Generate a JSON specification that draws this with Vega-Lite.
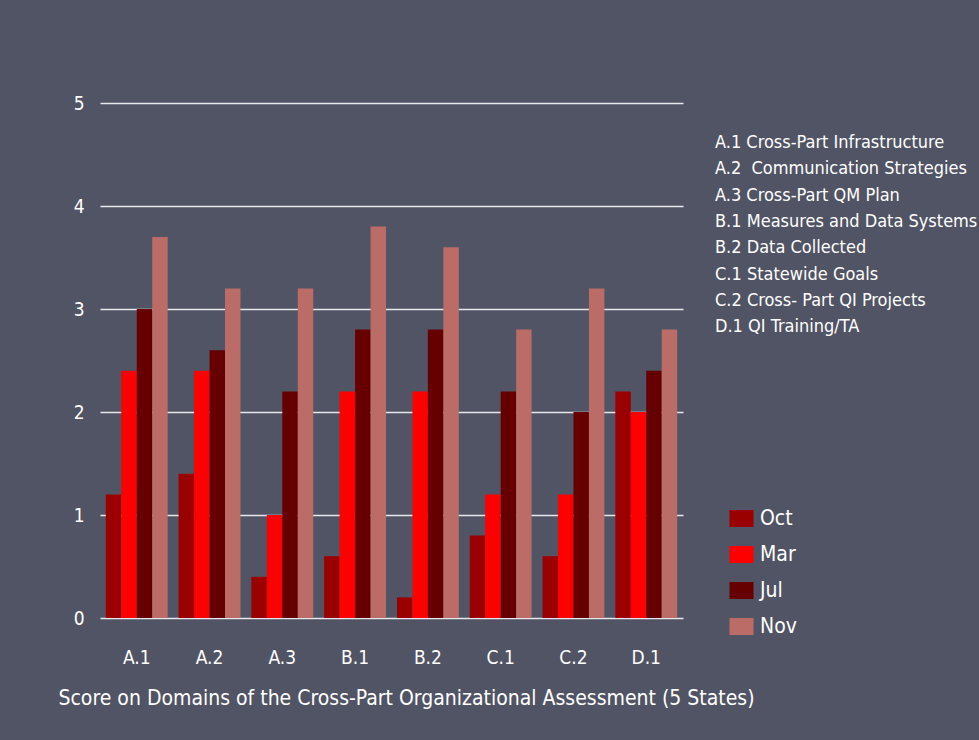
{
  "$schema": "https://vega.github.io/schema/vega-lite/v6.json",
  "width": 583,
  "height": 515,
  "autosize": {"type": "none"},
  "padding": {"left": 100, "top": 103, "right": 296, "bottom": 122},
  "background": "#515464",
  "config": {
    "view": {"stroke": null},
    "font": "DejaVu Sans Condensed, Liberation Sans Narrow, sans-serif",
    "text": {"font": "DejaVu Sans Condensed, Liberation Sans Narrow, sans-serif"}
  },
  "data": {
    "values": [
      {"domain": "A.1", "name": "A.1 Cross-Part Infrastructure", "period": "Oct", "score": 1.2},
      {"domain": "A.1", "name": "A.1 Cross-Part Infrastructure", "period": "Mar", "score": 2.4},
      {"domain": "A.1", "name": "A.1 Cross-Part Infrastructure", "period": "Jul", "score": 3.0},
      {"domain": "A.1", "name": "A.1 Cross-Part Infrastructure", "period": "Nov", "score": 3.7},
      {"domain": "A.2", "name": "A.2\u00a0 Communication Strategies", "period": "Oct", "score": 1.4},
      {"domain": "A.2", "name": "A.2\u00a0 Communication Strategies", "period": "Mar", "score": 2.4},
      {"domain": "A.2", "name": "A.2\u00a0 Communication Strategies", "period": "Jul", "score": 2.6},
      {"domain": "A.2", "name": "A.2\u00a0 Communication Strategies", "period": "Nov", "score": 3.2},
      {"domain": "A.3", "name": "A.3 Cross-Part QM Plan", "period": "Oct", "score": 0.4},
      {"domain": "A.3", "name": "A.3 Cross-Part QM Plan", "period": "Mar", "score": 1.0},
      {"domain": "A.3", "name": "A.3 Cross-Part QM Plan", "period": "Jul", "score": 2.2},
      {"domain": "A.3", "name": "A.3 Cross-Part QM Plan", "period": "Nov", "score": 3.2},
      {"domain": "B.1", "name": "B.1 Measures and Data Systems", "period": "Oct", "score": 0.6},
      {"domain": "B.1", "name": "B.1 Measures and Data Systems", "period": "Mar", "score": 2.2},
      {"domain": "B.1", "name": "B.1 Measures and Data Systems", "period": "Jul", "score": 2.8},
      {"domain": "B.1", "name": "B.1 Measures and Data Systems", "period": "Nov", "score": 3.8},
      {"domain": "B.2", "name": "B.2 Data Collected", "period": "Oct", "score": 0.2},
      {"domain": "B.2", "name": "B.2 Data Collected", "period": "Mar", "score": 2.2},
      {"domain": "B.2", "name": "B.2 Data Collected", "period": "Jul", "score": 2.8},
      {"domain": "B.2", "name": "B.2 Data Collected", "period": "Nov", "score": 3.6},
      {"domain": "C.1", "name": "C.1 Statewide Goals", "period": "Oct", "score": 0.8},
      {"domain": "C.1", "name": "C.1 Statewide Goals", "period": "Mar", "score": 1.2},
      {"domain": "C.1", "name": "C.1 Statewide Goals", "period": "Jul", "score": 2.2},
      {"domain": "C.1", "name": "C.1 Statewide Goals", "period": "Nov", "score": 2.8},
      {"domain": "C.2", "name": "C.2 Cross- Part QI Projects", "period": "Oct", "score": 0.6},
      {"domain": "C.2", "name": "C.2 Cross- Part QI Projects", "period": "Mar", "score": 1.2},
      {"domain": "C.2", "name": "C.2 Cross- Part QI Projects", "period": "Jul", "score": 2.0},
      {"domain": "C.2", "name": "C.2 Cross- Part QI Projects", "period": "Nov", "score": 3.2},
      {"domain": "D.1", "name": "D.1 QI Training/TA", "period": "Oct", "score": 2.2},
      {"domain": "D.1", "name": "D.1 QI Training/TA", "period": "Mar", "score": 2.0},
      {"domain": "D.1", "name": "D.1 QI Training/TA", "period": "Jul", "score": 2.4},
      {"domain": "D.1", "name": "D.1 QI Training/TA", "period": "Nov", "score": 2.8}
    ]
  },
  "mark": {"type": "bar", "strokeWidth": 0},
  "encoding": {
    "x": {
      "field": "domain",
      "type": "nominal",
      "sort": null,
      "scale": {"paddingInner": 0.15, "paddingOuter": 0.08},
      "axis": {
        "title": "Score on Domains of the Cross-Part Organizational Assessment (5 States)",
        "titleColor": "white",
        "titleFontSize": 21,
        "titleFontWeight": "normal",
        "titlePadding": 20,
        "titleX": 306,
        "labelColor": "white",
        "labelFontSize": 19,
        "labelPadding": 30,
        "labelAngle": 0,
        "domain": false,
        "ticks": false
      }
    },
    "xOffset": {"field": "period", "type": "nominal", "sort": ["Oct", "Mar", "Jul", "Nov"], "scale": {"paddingInner": 0}},
    "y": {
      "field": "score",
      "type": "quantitative",
      "scale": {"domain": [0, 5], "nice": false},
      "axis": {
        "title": null,
        "values": [0, 1, 2, 3, 4, 5],
        "labelColor": "white",
        "labelFontSize": 19,
        "labelPadding": 16,
        "domain": false,
        "ticks": false,
        "gridColor": "#e8e8ec",
        "gridWidth": 1.5,
        "gridOpacity": 1
      }
    },
    "color": {
      "field": "period",
      "type": "nominal",
      "sort": ["Oct", "Mar", "Jul", "Nov"],
      "scale": {"domain": ["Oct", "Mar", "Jul", "Nov"], "range": ["#9b0000", "#ff0000", "#660000", "#bb6c66"]},
      "legend": {
        "title": null,
        "orient": "none",
        "legendX": 631,
        "legendY": 405,
        "symbolType": "M-1.2,-0.85H1.2V0.85H-1.2Z",
        "symbolSize": 400,
        "symbolStrokeWidth": 0,
        "symbolOpacity": 1,
        "labelColor": "white",
        "labelFontSize": 21,
        "labelOffset": 8,
        "rowPadding": 14
      }
    },
    "strokeDash": {
      "field": "name",
      "type": "nominal",
      "sort": null,
      "legend": {
        "title": null,
        "orient": "none",
        "legendX": 597,
        "legendY": 31,
        "symbolSize": 0,
        "symbolStrokeWidth": 0,
        "symbolOpacity": 0,
        "labelOffset": 0,
        "labelColor": "white",
        "labelFontSize": 18,
        "labelLimit": 400,
        "rowPadding": 8.3
      }
    }
  }
}
